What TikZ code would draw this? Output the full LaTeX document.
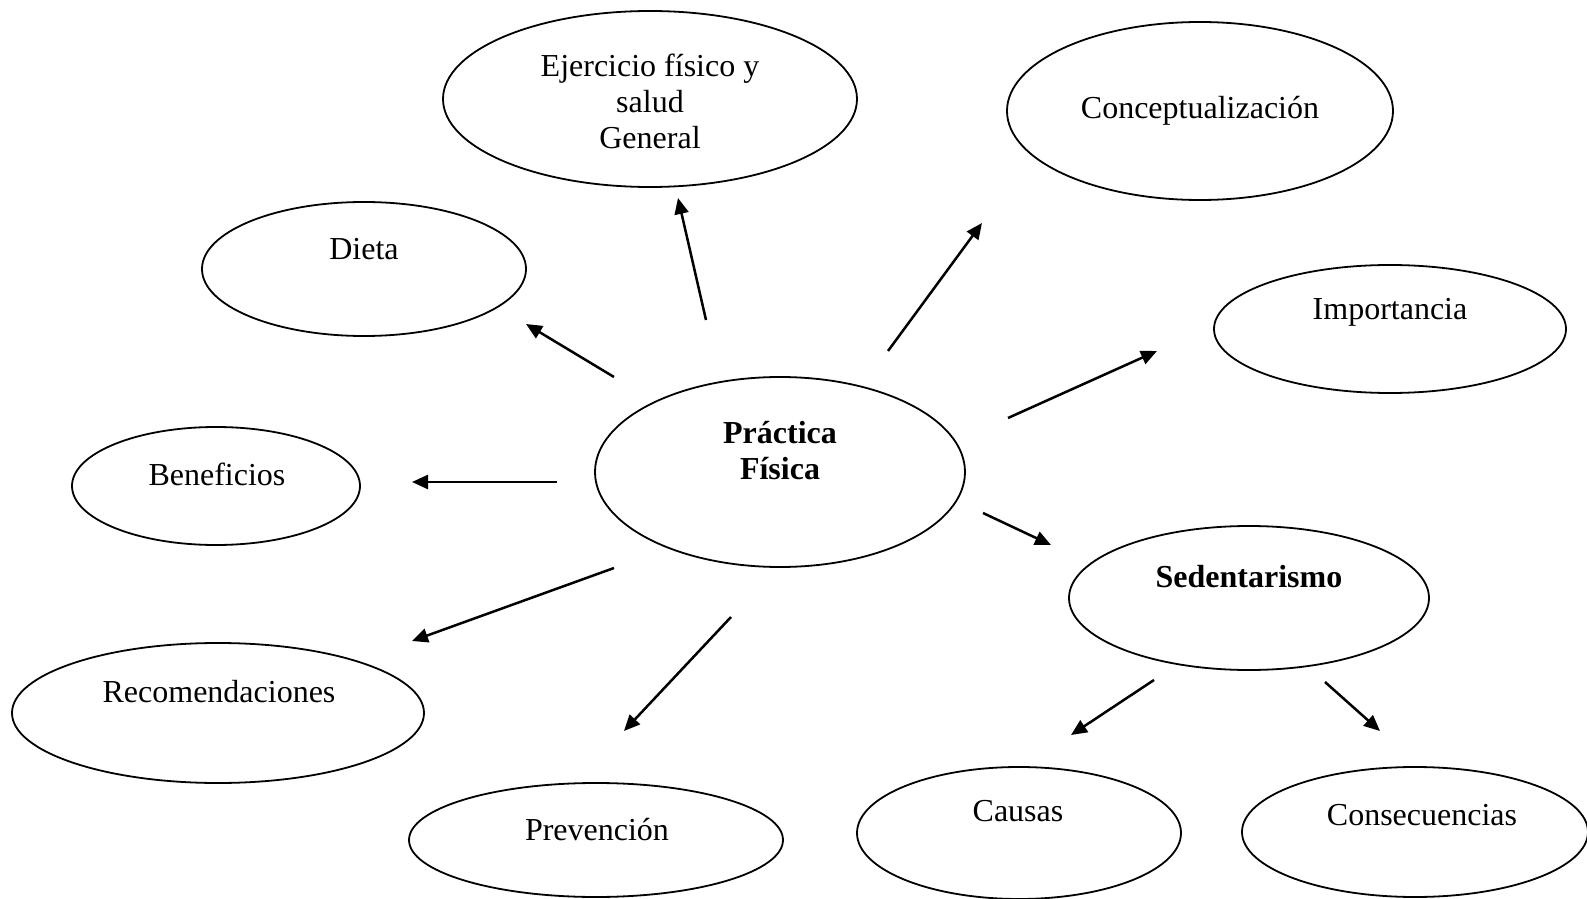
\documentclass[tikz,border=0pt]{standalone}
\usepackage{fontspec}
\setmainfont{Liberation Serif}
\usetikzlibrary{shapes.geometric,arrows.meta}
\begin{document}
\begin{tikzpicture}[x=0.5pt,y=-0.5pt,
  oval/.style={ellipse,draw,line width=0.9pt,inner sep=0pt},
  lbl/.style={font=\fontsize{16}{18}\selectfont,align=center,inner sep=0pt},
  arr/.style={line width=1.25pt,-{Triangle[length=8pt,width=7pt]}}]
\useasboundingbox (0,0) rectangle (1587,899);
% ellipses (minimum width = rx pt, height = ry pt at 0.5pt/px)
\node[oval,minimum width=414*0.5pt,minimum height=176*0.5pt] (ej) at (650,99) {};
\node[lbl] (ejt) at (650,101) {Ejercicio físico y\\salud\\General};
\node[oval,minimum width=386*0.5pt,minimum height=178*0.5pt] (co) at (1200,111) {};
\node[lbl] (cot) at (1200,111) {Conceptualización};
\node[oval,minimum width=324*0.5pt,minimum height=134*0.5pt] (di) at (364,269) {};
\node[lbl] (dit) at (364,249) {Dieta};
\node[oval,minimum width=352*0.5pt,minimum height=128*0.5pt] (im) at (1390,329) {};
\node[lbl] (imt) at (1390,312) {Importancia};
\node[oval,minimum width=370*0.5pt,minimum height=190*0.5pt] (pf) at (780,472) {};
\node[lbl,font=\fontsize{16}{18}\selectfont\bfseries] (pft) at (780,451) {Práctica\\Física};
\node[oval,minimum width=288*0.5pt,minimum height=118*0.5pt] (be) at (216,486) {};
\node[lbl] (bet) at (217,474) {Beneficios};
\node[oval,minimum width=360*0.5pt,minimum height=144*0.5pt] (se) at (1249,598) {};
\node[lbl,font=\fontsize{16}{18}\selectfont\bfseries] (set) at (1249,577) {Sedentarismo};
\node[oval,minimum width=412*0.5pt,minimum height=140*0.5pt] (re) at (218,713) {};
\node[lbl] (ret) at (219,692) {Recomendaciones};
\node[oval,minimum width=374*0.5pt,minimum height=114*0.5pt] (pr) at (596,840) {};
\node[lbl] (prt) at (597,830) {Prevención};
\node[oval,minimum width=324*0.5pt,minimum height=132*0.5pt] (ca) at (1019,833) {};
\node[lbl] (cat) at (1018,811) {Causas};
\node[oval,minimum width=346*0.5pt,minimum height=130*0.5pt] (cs) at (1415,832) {};
\node[lbl] (cst) at (1422,815) {Consecuencias};
% arrow end points
\coordinate (a1s) at (706,320); \coordinate (a1e) at (678,198);
\coordinate (a2s) at (888,351); \coordinate (a2e) at (982,223);
\coordinate (a3s) at (614,377); \coordinate (a3e) at (526,324);
\coordinate (a4s) at (1008,418); \coordinate (a4e) at (1157,351);
\coordinate (a5s) at (557,482); \coordinate (a5e) at (412,482);
\coordinate (a6s) at (983,513); \coordinate (a6e) at (1051,545);
\coordinate (a7s) at (614,568); \coordinate (a7e) at (412,641);
\coordinate (a8s) at (731,617); \coordinate (a8e) at (624,731);
\coordinate (a9s) at (1154,680); \coordinate (a9e) at (1071,735);
\coordinate (a10s) at (1325,682); \coordinate (a10e) at (1380,731);
\foreach \i in {1,...,10} {\draw[arr] (a\i s) -- (a\i e);}
\end{tikzpicture}
\end{document}
